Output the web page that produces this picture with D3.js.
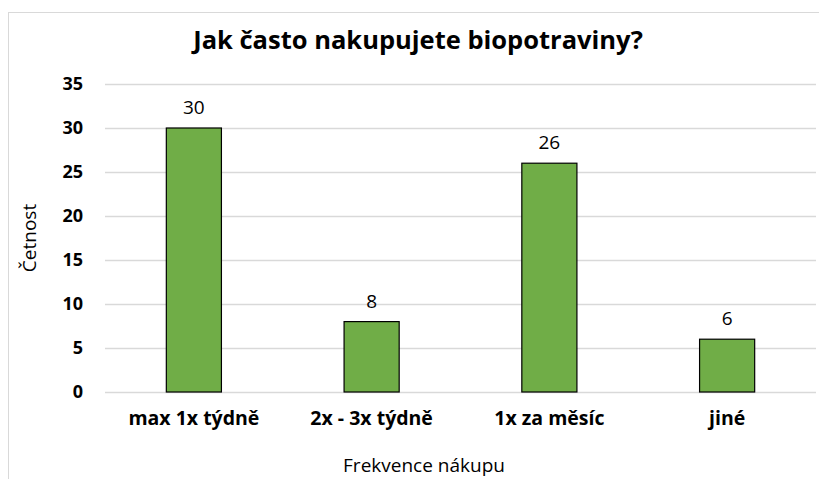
<!DOCTYPE html>
<html lang="cs">
<head>
  <meta charset="UTF-8">
  <title>Jak často nakupujete biopotraviny?</title>
  <script src="https://d3js.org/d3.v7.min.js"></script>
  <style>
    body { margin: 0; background: #fff; }
    text { font-family: "Open Sans", sans-serif; fill: #000; }
  </style>
</head>
<body>
  <div id="chart"></div>
  <script>
    const categories = ['max 1x týdně', '2x - 3x týdně', '1x za měsíc', 'jiné'];
    const counts = [30, 8, 26, 6];
    const yTicks = [0, 5, 10, 15, 20, 25, 30, 35];

    const width = 819;
    const height = 479;
    const margin = { top: 84, right: 3, bottom: 87, left: 105 };

    const svg = d3.select('#chart')
      .append('svg')
      .attr('width', width)
      .attr('height', height);

    // chart frame (only top and left edges are in view)
    svg.append('rect')
      .attr('x', 8.5).attr('y', 12.5)
      .attr('width', 830).attr('height', 500)
      .attr('fill', 'none')
      .attr('stroke', '#d9d9d9');

    const x = d3.scaleBand()
      .domain(categories)
      .range([margin.left, width - margin.right])
      .paddingInner(0.69)
      .paddingOuter(0.345);

    const y = d3.scaleLinear()
      .domain([0, 35])
      .range([height - margin.bottom, margin.top]);

    svg.append('g')
      .selectAll('line')
      .data(yTicks)
      .join('line')
      .attr('x1', margin.left)
      .attr('x2', width - margin.right)
      .attr('y1', d => y(d) + 0.5)
      .attr('y2', d => y(d) + 0.5)
      .attr('stroke', '#d9d9d9')
      .attr('stroke-width', 1.3);

    svg.append('g')
      .selectAll('text')
      .data(yTicks)
      .join('text')
      .attr('x', 83)
      .attr('y', d => y(d))
      .attr('dy', '0.36em')
      .attr('text-anchor', 'end')
      .attr('font-size', 18)
      .attr('font-weight', 'bold')
      .text(d => d);

    svg.append('g')
      .selectAll('rect')
      .data(counts)
      .join('rect')
      .attr('x', (d, i) => x(categories[i]))
      .attr('y', d => y(d))
      .attr('width', x.bandwidth())
      .attr('height', d => y(0) - y(d))
      .attr('fill', '#70ad47')
      .attr('stroke', '#000')
      .attr('stroke-width', 1.2);

    svg.append('g')
      .selectAll('text')
      .data(counts)
      .join('text')
      .attr('x', (d, i) => x(categories[i]) + x.bandwidth() / 2)
      .attr('y', d => y(d) - 14)
      .attr('text-anchor', 'middle')
      .attr('font-size', 19)
      .text(d => d);

    svg.append('g')
      .selectAll('text')
      .data(categories)
      .join('text')
      .attr('x', d => x(d) + x.bandwidth() / 2)
      .attr('y', 425)
      .attr('text-anchor', 'middle')
      .attr('font-size', 19.5)
      .attr('font-weight', 'bold')
      .text(d => d);

    svg.append('text')
      .attr('x', 418)
      .attr('y', 49)
      .attr('text-anchor', 'middle')
      .attr('font-size', 25.5)
      .attr('font-weight', 'bold')
      .text('Jak často nakupujete biopotraviny?');

    svg.append('text')
      .attr('transform', 'translate(36,238) rotate(-90)')
      .attr('text-anchor', 'middle')
      .attr('font-size', 19)
      .text('Četnost');

    svg.append('text')
      .attr('x', 424)
      .attr('y', 472)
      .attr('text-anchor', 'middle')
      .attr('font-size', 19)
      .text('Frekvence nákupu');
  </script>
</body>
</html>
